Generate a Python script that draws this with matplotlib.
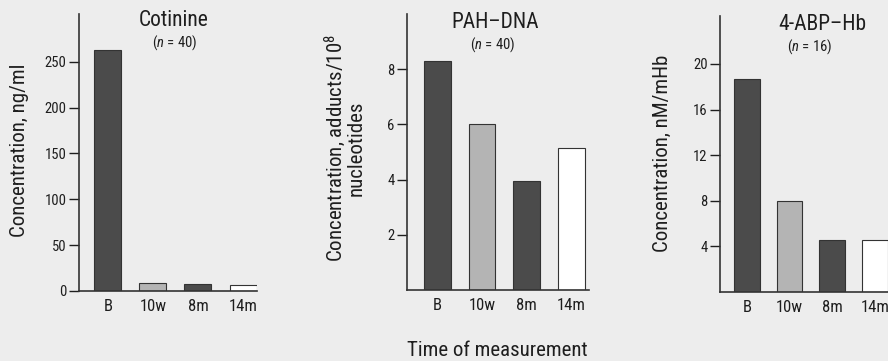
#!/usr/bin/env python3
import matplotlib
matplotlib.use("Agg")
import matplotlib.pyplot as plt

plt.rcParams["font.family"] = ["Roboto Condensed", "DejaVu Sans"]
plt.rcParams["mathtext.fontset"] = "custom"
plt.rcParams["mathtext.rm"] = "Roboto Condensed"
plt.rcParams["mathtext.it"] = "Roboto Condensed:italic"

times = ["B", "10w", "8m", "14m"]
cotinine = [263, 8.7, 7.6, 6.5]
pah_dna = [8.3, 6.0, 3.95, 5.15]
abp_hb = [18.7, 8.0, 4.6, 4.55]

DARK = "#4b4b4b"
LIGHT = "#b4b4b4"
WHITE = "#ffffff"
bar_colors = [DARK, LIGHT, DARK, WHITE]
INK = "#1e1e1e"

W, H = 888, 361
fig = plt.figure(figsize=(W / 100, H / 100), dpi=100)
fig.patch.set_facecolor("#ededed")


def px_axes(left, right, top, bottom):
    # pixel box -> figure fraction
    return fig.add_axes([left / W, (H - bottom) / H, (right - left) / W, (bottom - top) / H])


def fig_text(x, y, s, **kw):
    fig.text(x / W, (H - y) / H, s, color=INK, **kw)


def panel(ax, vals, ylim, yticks, xlim):
    ax.set_facecolor("none")
    ax.bar(range(len(times)), vals, width=0.6, color=bar_colors,
           edgecolor="#333333", linewidth=0.8)
    ax.set_xlim(*xlim)
    ax.set_ylim(*ylim)
    ax.set_yticks(yticks)
    ax.set_xticks(range(len(times)))
    ax.set_xticklabels(times, fontsize=12, color=INK)
    ax.tick_params(axis="x", length=0, pad=6)
    ax.tick_params(axis="y", direction="out", length=7, width=1, labelsize=10.5,
                   colors=INK, pad=2)
    for s in ("top", "right"):
        ax.spines[s].set_visible(False)
    for s in ("left", "bottom"):
        ax.spines[s].set_linewidth(1.2)
        ax.spines[s].set_color("#333333")


ax1 = px_axes(79, 257, 14, 291)
panel(ax1, cotinine, (0, 302), [0, 50, 100, 150, 200, 250], (-0.64, 3.31))

ax2 = px_axes(407, 589, 14, 290)
panel(ax2, pah_dna, (0, 10), [2, 4, 6, 8], (-0.685, 3.4))

ax3 = px_axes(720, 892, 16, 292)
panel(ax3, abp_hb, (0, 24.2), [4, 8, 12, 16, 20], (-0.63, 3.4))

# titles
fig_text(174, 21, "Cotinine", ha="center", va="center", fontsize=15.5)
fig_text(175, 43, "($n$ = 40)", ha="center", va="center", fontsize=10.5)
fig_text(495, 23, "PAH–DNA", ha="center", va="center", fontsize=15.5)
fig_text(493, 45, "($n$ = 40)", ha="center", va="center", fontsize=10.5)
fig_text(822, 25, "4-ABP–Hb", ha="center", va="center", fontsize=15.5)
fig_text(810, 47, "($n$ = 16)", ha="center", va="center", fontsize=10.5)

# y labels
fig_text(20, 150, "Concentration, ng/ml", rotation=90, ha="center", va="center",
         fontsize=15)
fig_text(344, 148, "Concentration, adducts/10$^8$\nnucleotides", rotation=90,
         ha="center", va="center", multialignment="center", fontsize=15,
         linespacing=0.9)
fig_text(662, 153, "Concentration, nM/mHb", rotation=90, ha="center", va="center",
         fontsize=15)

fig_text(497, 350, "Time of measurement", ha="center", va="center", fontsize=15)

fig.savefig("out.png", dpi=100, facecolor=fig.get_facecolor())
